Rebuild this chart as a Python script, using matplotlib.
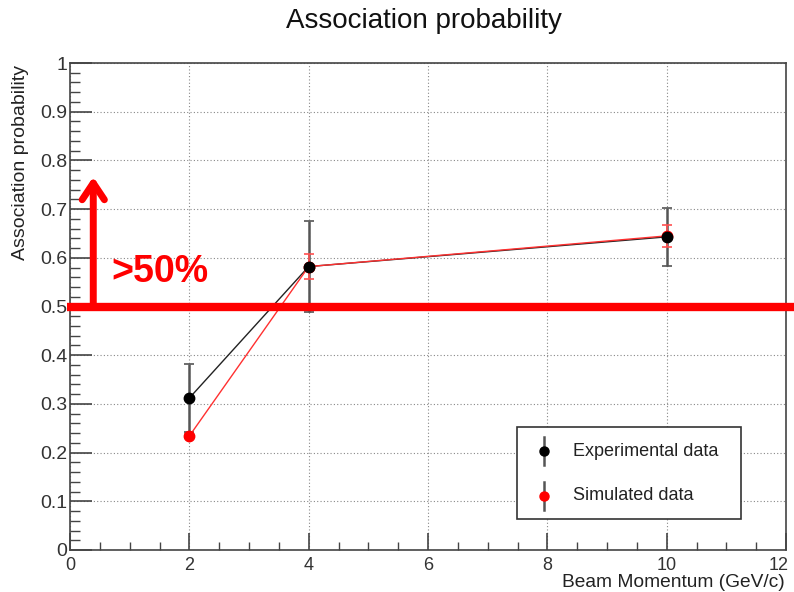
import matplotlib
matplotlib.use("Agg")
import matplotlib.pyplot as plt
from matplotlib.ticker import MultipleLocator
from matplotlib.patches import Rectangle

plt.rcParams['font.family'] = ['Liberation Sans', 'DejaVu Sans']

momentum = [2, 4, 10]
exp_prob = [0.312, 0.582, 0.643]
exp_err = [0.07, 0.093, 0.06]
sim_prob = [0.234, 0.582, 0.645]
sim_err = [0.005, 0.026, 0.023]
threshold = 0.5
series_labels = ['Experimental data', 'Simulated data']
x_ticks = [0, 2, 4, 6, 8, 10, 12]
y_ticks = [0, 0.1, 0.2, 0.3, 0.4, 0.5, 0.6, 0.7, 0.8, 0.9, 1]
y_ticklabels = ['0', '0.1', '0.2', '0.3', '0.4', '0.5', '0.6', '0.7', '0.8', '0.9', '1']

W, H = 794, 592
fig = plt.figure(figsize=(W / 100, H / 100), dpi=100)
ax = fig.add_axes([70 / W, 1 - 550 / H, 716 / W, 487 / H])

ax.set_xlim(0, 12)
ax.set_ylim(0, 1)

ax.set_xticks(x_ticks)
# last label drawn separately (shifted inward so it stays inside the figure)
ax.set_xticklabels([str(v) for v in x_ticks[:-1]] + [''])
ax.xaxis.set_minor_locator(MultipleLocator(0.5))
ax.yaxis.set_minor_locator(MultipleLocator(0.02))
ax.set_yticks(y_ticks)
ax.set_yticklabels(y_ticklabels)
ax.tick_params(which='both', direction='in', top=False, right=False, color='#444444')
ax.tick_params(axis='y', which='major', length=16, width=1.2, labelsize=14, pad=2, labelcolor='#333333')
ax.tick_params(axis='y', which='minor', length=7, width=1.0)
ax.tick_params(axis='x', which='major', length=12, width=1.2, labelsize=13, pad=5, labelcolor='#333333')
ax.tick_params(axis='x', which='minor', length=6, width=1.0)
ax.grid(True, which='major', linestyle=(0, (1, 2)), color='#888888', linewidth=0.8)
for s in ax.spines.values():
    s.set_color('#444444')
    s.set_linewidth(1.2)

ax.annotate(str(x_ticks[-1]), xy=(x_ticks[-1], 0), xytext=(-5, -5), textcoords='offset points',
            ha='center', va='top', fontsize=13, color='#333333', annotation_clip=False)

# Red threshold line and arrow
ax.plot([-0.05, 12.2], [threshold, threshold], color='#ff0000', linewidth=6, clip_on=False, zorder=6,
        solid_capstyle='butt')
ax.annotate('', xy=(0.39, 0.772), xytext=(0.39, 0.495),
            arrowprops=dict(arrowstyle='->,head_width=0.8,head_length=1.2', color='#ff0000', lw=5),
            zorder=6)
ax.text(0.7, 0.57, '>50%', color='#ff0000', fontsize=27, fontweight='bold', va='center', ha='left', zorder=6)

# Data
ax.plot(momentum, exp_prob, color='#222222', linewidth=1.0, zorder=3)
ax.plot(momentum, sim_prob, color='#ff3030', linewidth=1.0, zorder=3.5)
ax.errorbar(momentum, exp_prob, yerr=exp_err, fmt='none', ecolor='#555555',
            elinewidth=1.8, capsize=3.5, capthick=1.2, zorder=3)
ax.errorbar(momentum, sim_prob, yerr=sim_err, fmt='o', color='#ff0000', ecolor='#ff5050',
            elinewidth=1.2, capsize=3.5, capthick=1.2, markersize=7.5, zorder=4)
ax.plot(momentum, exp_prob, 'o', color='black', markersize=7.5, zorder=5)

fig.text(423.5 / W, 1 - 28 / H, 'Association probability', fontsize=20, ha='center', va='baseline',
         color='#111111')
fig.text(21 / W, 1 - 65 / H, 'Association probability', fontsize=14, rotation=90, ha='center', va='top',
         color='#222222')
fig.text(785 / W, 1 - 587 / H, 'Beam Momentum (GeV/c)', fontsize=13.8, ha='right', va='baseline',
         color='#222222')

# Legend (drawn in axes coordinates)
lx0, lx1 = (517 - 70) / 716, (741 - 70) / 716
ly0, ly1 = (550 - 519) / 487, (550 - 427) / 487
ax.add_patch(Rectangle((lx0, ly0), lx1 - lx0, ly1 - ly0, transform=ax.transAxes, facecolor='white',
                       edgecolor='#333333', linewidth=1.2, zorder=7))
entries = [('black', 451), ('#ff0000', 496)]
for (mc, py), lab in zip(entries, series_labels):
    yc = (550 - py) / 487
    xm = (544 - 70) / 716
    ax.plot([xm, xm], [yc - 14 / 487, yc + 14 / 487], color='#555555', linewidth=1.8,
            transform=ax.transAxes, zorder=8)
    ax.plot([xm], [yc], 'o', color=mc, markersize=6.5, transform=ax.transAxes, zorder=9)
    ax.text((573 - 70) / 716, yc, lab, fontsize=13, va='center', ha='left', transform=ax.transAxes,
            color='#222222', zorder=9)

fig.savefig('out.png', dpi=100)
